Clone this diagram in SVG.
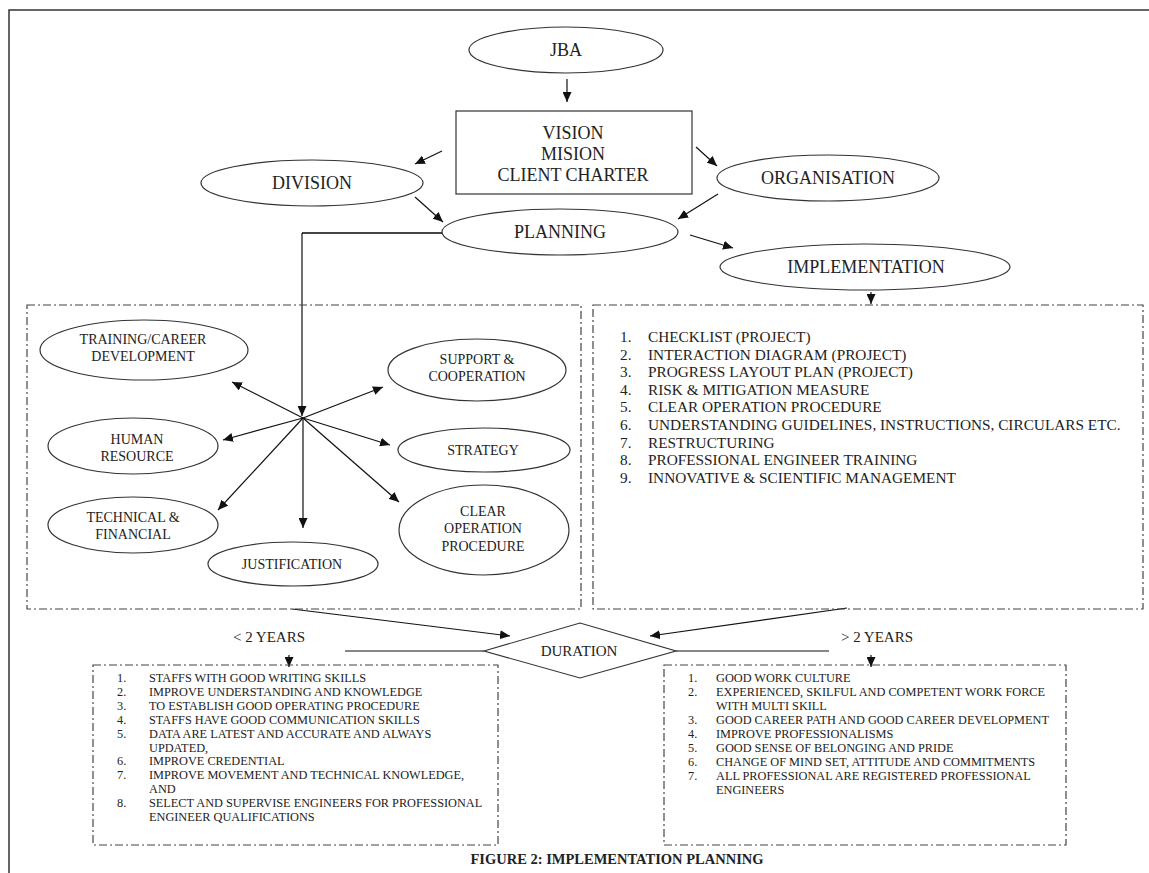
<svg xmlns="http://www.w3.org/2000/svg" width="1149" height="873" viewBox="0 0 1149 873">
<style>
text{font-family:"Liberation Serif","Times New Roman",serif;fill:#222}
.big{font-size:18px;text-anchor:middle}
.mid{font-size:14px;text-anchor:middle}
.lst{font-size:15.3px}
.sm{font-size:12.3px}
.node{fill:#fff;stroke:#333;stroke-width:1.2}
.box{fill:none;stroke:#444;stroke-width:1.2;stroke-dasharray:8 3 2 3}
.con{fill:none;stroke:#111;stroke-width:1.2}
.arr{marker-end:url(#ah)}
</style>
<defs>
<marker id="ah" markerUnits="userSpaceOnUse" markerWidth="11" markerHeight="9" refX="10" refY="4.5" orient="auto">
<path d="M0,0 L10,4.5 L0,9 z" fill="#111"/>
</marker>
</defs>
<rect width="1149" height="873" fill="#fff"/>
<g id="frame">
<path d="M1149,10 H9 V873" fill="none" stroke="#333" stroke-width="1.5"/>
</g>
<g id="connectors">
<line class="con arr" x1="567" y1="79" x2="567" y2="102"/>
<line class="con arr" x1="442" y1="151" x2="415" y2="164"/>
<line class="con arr" x1="696" y1="147" x2="717" y2="166"/>
<line class="con arr" x1="415" y1="197" x2="443" y2="222"/>
<line class="con arr" x1="718" y1="194" x2="678" y2="219"/>
<line class="con arr" x1="690" y1="235" x2="733" y2="248"/>
<line class="con arr" x1="871" y1="292" x2="871" y2="304"/>
<path class="con" d="M443,233 H302" stroke-width="2" style="stroke:#444;stroke-width:2"/>
<line class="con arr" x1="302" y1="233" x2="302" y2="416"/>
<line class="con arr" x1="303" y1="418" x2="232" y2="382"/>
<line class="con arr" x1="303" y1="418" x2="223" y2="440"/>
<line class="con arr" x1="303" y1="418" x2="218" y2="510"/>
<line class="con arr" x1="303" y1="418" x2="303" y2="528"/>
<line class="con arr" x1="303" y1="418" x2="383" y2="387"/>
<line class="con arr" x1="303" y1="418" x2="390" y2="445"/>
<line class="con arr" x1="303" y1="418" x2="399" y2="502"/>
<line class="con arr" x1="292" y1="609" x2="510" y2="636"/>
<line class="con arr" x1="847" y1="608" x2="650" y2="636"/>
<line class="con" x1="484" y1="651" x2="345" y2="651"/>
<line class="con" x1="676" y1="651" x2="829" y2="651"/>
<line class="con arr" x1="289" y1="655" x2="289" y2="667"/>
<line class="con arr" x1="871" y1="655" x2="871" y2="667"/>
</g>
<g id="jba">
<ellipse class="node" cx="566" cy="50" rx="97" ry="23"/>
<text class="big" x="566" y="56">JBA</text>
</g>
<g id="vision">
<rect class="node" x="456" y="111" width="236" height="83"/>
<text class="big" x="573" y="139">VISION</text>
<text class="big" x="573" y="160">MISION</text>
<text class="big" x="573" y="181">CLIENT CHARTER</text>
</g>
<g id="division">
<ellipse class="node" cx="312" cy="183" rx="111" ry="23"/>
<text class="big" x="312" y="189">DIVISION</text>
</g>
<g id="organisation">
<ellipse class="node" cx="828" cy="178" rx="111" ry="23"/>
<text class="big" x="828" y="184">ORGANISATION</text>
</g>
<g id="planning">
<ellipse class="node" cx="560" cy="232" rx="118" ry="23"/>
<text class="big" x="560" y="238">PLANNING</text>
</g>
<g id="implementation">
<ellipse class="node" cx="865" cy="267" rx="145" ry="23"/>
<text class="big" x="866" y="273">IMPLEMENTATION</text>
</g>
<g id="planning-box">
<rect class="box" x="27" y="305" width="554" height="304"/>
</g>
<g id="training">
<ellipse class="node" cx="144" cy="350" rx="104" ry="30"/>
<text class="mid" x="143" y="344">TRAINING/CAREER</text>
<text class="mid" x="143" y="361">DEVELOPMENT</text>
</g>
<g id="human">
<ellipse class="node" cx="133" cy="446" rx="85" ry="28"/>
<text class="mid" x="137" y="444">HUMAN</text>
<text class="mid" x="137" y="461">RESOURCE</text>
</g>
<g id="technical">
<ellipse class="node" cx="133" cy="525" rx="85" ry="28"/>
<text class="mid" x="133" y="522">TECHNICAL &amp;</text>
<text class="mid" x="133" y="539">FINANCIAL</text>
</g>
<g id="justification">
<ellipse class="node" cx="293" cy="564" rx="85" ry="22"/>
<text class="mid" x="292" y="569">JUSTIFICATION</text>
</g>
<g id="support">
<ellipse class="node" cx="477" cy="370" rx="89" ry="31"/>
<text class="mid" x="477" y="364">SUPPORT &amp;</text>
<text class="mid" x="477" y="381">COOPERATION</text>
</g>
<g id="strategy">
<ellipse class="node" cx="484" cy="450" rx="86" ry="22"/>
<text class="mid" x="483" y="455">STRATEGY</text>
</g>
<g id="clear">
<ellipse class="node" cx="484" cy="530" rx="85" ry="45"/>
<text class="mid" x="483" y="516">CLEAR</text>
<text class="mid" x="483" y="533">OPERATION</text>
<text class="mid" x="483" y="551">PROCEDURE</text>
</g>
<g id="implementation-box">
<rect class="box" x="593" y="305" width="550" height="304"/>
<g class="lst">
<text x="620" y="342">1.</text><text x="648" y="342">CHECKLIST (PROJECT)</text>
<text x="620" y="359.6">2.</text><text x="648" y="359.6">INTERACTION DIAGRAM (PROJECT)</text>
<text x="620" y="377.2">3.</text><text x="648" y="377.2">PROGRESS LAYOUT PLAN (PROJECT)</text>
<text x="620" y="394.8">4.</text><text x="648" y="394.8">RISK &amp; MITIGATION MEASURE</text>
<text x="620" y="412.4">5.</text><text x="648" y="412.4">CLEAR OPERATION PROCEDURE</text>
<text x="620" y="430">6.</text><text x="648" y="430">UNDERSTANDING GUIDELINES, INSTRUCTIONS, CIRCULARS ETC.</text>
<text x="620" y="447.6">7.</text><text x="648" y="447.6">RESTRUCTURING</text>
<text x="620" y="465.2">8.</text><text x="648" y="465.2">PROFESSIONAL ENGINEER TRAINING</text>
<text x="620" y="482.8">9.</text><text x="648" y="482.8">INNOVATIVE &amp; SCIENTIFIC MANAGEMENT</text>
</g>
</g>
<g id="duration">
<polygon class="node" points="484,651 580,623 676,651 580,678"/>
<text x="579" y="656" style="font-size:15px;text-anchor:middle">DURATION</text>
</g>
<g id="labels">
<text x="269" y="642" style="font-size:15px;text-anchor:middle">&lt; 2 YEARS</text>
<text x="877" y="642" style="font-size:15px;text-anchor:middle">&gt; 2 YEARS</text>
</g>
<g id="short-term">
<rect class="box" x="93" y="665" width="405" height="180"/>
<g class="sm">
<text x="117" y="682">1.</text><text x="149" y="682">STAFFS WITH GOOD WRITING SKILLS</text>
<text x="117" y="695.9">2.</text><text x="149" y="695.9">IMPROVE UNDERSTANDING AND KNOWLEDGE</text>
<text x="117" y="709.8">3.</text><text x="149" y="709.8">TO ESTABLISH GOOD OPERATING PROCEDURE</text>
<text x="117" y="723.7">4.</text><text x="149" y="723.7">STAFFS HAVE GOOD COMMUNICATION SKILLS</text>
<text x="117" y="737.6">5.</text><text x="149" y="737.6">DATA ARE LATEST AND ACCURATE AND ALWAYS</text>
<text x="149" y="751.5">UPDATED,</text>
<text x="117" y="765.4">6.</text><text x="149" y="765.4">IMPROVE CREDENTIAL</text>
<text x="117" y="779.3">7.</text><text x="149" y="779.3">IMPROVE MOVEMENT AND TECHNICAL KNOWLEDGE,</text>
<text x="149" y="793.2">AND</text>
<text x="117" y="807.1">8.</text><text x="149" y="807.1">SELECT AND SUPERVISE ENGINEERS FOR PROFESSIONAL</text>
<text x="149" y="821">ENGINEER QUALIFICATIONS</text>
</g>
</g>
<g id="long-term">
<rect class="box" x="664" y="665" width="402" height="180"/>
<g class="sm">
<text x="688" y="682">1.</text><text x="716" y="682">GOOD WORK CULTURE</text>
<text x="688" y="696">2.</text><text x="716" y="696">EXPERIENCED, SKILFUL AND COMPETENT WORK FORCE</text>
<text x="716" y="710">WITH MULTI SKILL</text>
<text x="688" y="724">3.</text><text x="716" y="724">GOOD CAREER PATH AND GOOD CAREER DEVELOPMENT</text>
<text x="688" y="738">4.</text><text x="716" y="738">IMPROVE PROFESSIONALISMS</text>
<text x="688" y="752">5.</text><text x="716" y="752">GOOD SENSE OF BELONGING AND PRIDE</text>
<text x="688" y="766">6.</text><text x="716" y="766">CHANGE OF MIND SET, ATTITUDE AND COMMITMENTS</text>
<text x="688" y="780">7.</text><text x="716" y="780">ALL PROFESSIONAL ARE REGISTERED PROFESSIONAL</text>
<text x="716" y="794">ENGINEERS</text>
</g>
</g>
<g id="caption">
<text x="617" y="864" style="font-size:14.5px;font-weight:bold;text-anchor:middle">FIGURE 2: IMPLEMENTATION PLANNING</text>
</g>
</svg>
